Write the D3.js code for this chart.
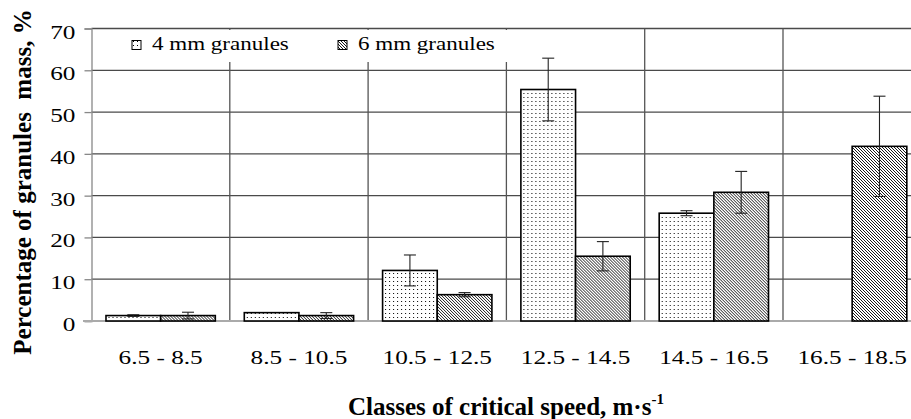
<!DOCTYPE html>
<html>
<head>
<meta charset="utf-8">
<script src="https://cdn.jsdelivr.net/npm/d3@7"></script>
<style>
body { margin: 0; background: #fff; }
svg { display: block; font-family: "Liberation Serif", "Times New Roman", serif; }
</style>
</head>
<body>
<svg id="chart"></svg>
<script>
var categories = ["6.5 - 8.5", "8.5 - 10.5", "10.5 - 12.5", "12.5 - 14.5", "14.5 - 16.5", "16.5 - 18.5"];
var series = ["4 mm granules", "6 mm granules"];
var mm4 = [1.3, 2.0, 12.1, 55.4, 25.8, null];
var mm4Err = [0.2, 0, 3.7, 7.5, 0.6, null];
var mm6 = [1.3, 1.3, 6.3, 15.5, 30.8, 41.8];
var mm6Err = [0.8, 0.7, 0.5, 3.5, 5.0, 12.0];
var yTicks = [0, 10, 20, 30, 40, 50, 60, 70];

var width = 911, height = 419;
var SX = 1.33; // labels are stretched sideways in the original

var svg = d3.select("#chart").attr("width", width).attr("height", height);

var defs = svg.append("defs");
var dots = defs.append("pattern").attr("id", "dots").attr("patternUnits", "userSpaceOnUse")
	.attr("width", 4).attr("height", 4);
dots.append("rect").attr("width", 4).attr("height", 4).attr("fill", "#fff");
dots.append("rect").attr("x", 1).attr("y", 1).attr("width", 1).attr("height", 1).attr("fill", "#000");

var hatch = defs.append("pattern").attr("id", "hatch").attr("patternUnits", "userSpaceOnUse")
	.attr("width", 3).attr("height", 3);
hatch.append("rect").attr("width", 3).attr("height", 3).attr("fill", "#fff");
hatch.append("path").attr("d", "M0,0L3,3M-1,2L1,4M2,-1L4,1").attr("stroke", "#000").attr("stroke-width", 0.9);

var fills = { "4 mm granules": "url(#dots)", "6 mm granules": "url(#hatch)" };

var x = d3.scaleBand().domain(categories).range([91.5, 921.3]).padding(0);
var xs = d3.scaleBand().domain(series).range([0, x.bandwidth()]).paddingInner(0).paddingOuter(0.265);
var y = d3.scaleLinear().domain([0, 70]).range([321, 28.5]);

var left = x.range()[0], right = x.range()[1];

// horizontal grid
svg.append("g").selectAll("line").data(yTicks.slice(1)).enter().append("line")
	.attr("x1", left).attr("x2", right)
	.attr("y1", (d) => y(d)).attr("y2", (d) => y(d))
	.attr("stroke", "#4a4a4a").attr("stroke-width", 1.3);

// vertical separators between classes
svg.append("g").selectAll("line").data(categories.slice(1)).enter().append("line")
	.attr("x1", (d) => x(d)).attr("x2", (d) => x(d))
	.attr("y1", y(70)).attr("y2", y(0))
	.attr("stroke", "#555").attr("stroke-width", 1.3);

// legend box hides the grid behind it
var legend = svg.append("g");
legend.append("rect").attr("x", 93).attr("y", 30).attr("width", 421).attr("height", 32).attr("fill", "#fff");
var legendX = [132, 338];
series.forEach((s, i) => {
	legend.append("rect").attr("x", legendX[i]).attr("y", 40.5).attr("width", 9).attr("height", 9)
		.attr("fill", fills[s]).attr("stroke", "#000").attr("stroke-width", 1);
	legend.append("text").text(s)
		.attr("transform", `translate(${legendX[i] + 20},50) scale(${SX - 0.05},1)`)
		.attr("font-size", 18).attr("fill", "#000");
});

// y axis
var yAxis = svg.append("g").attr("transform", `translate(${left},0)`)
	.call(d3.axisLeft(y).tickValues(yTicks).tickSize(7));
yAxis.select(".domain").attr("stroke", "#888").attr("stroke-width", 1.3);
yAxis.selectAll(".tick line").attr("stroke", "#888").attr("stroke-width", 1.3);
yAxis.selectAll(".tick text")
	.attr("x", null).attr("dy", null)
	.attr("transform", `translate(-16,9.5) scale(${SX},1)`)
	.attr("font-size", 19).attr("fill", "#000")
	.style("font-family", "Liberation Serif");

// x axis
var xAxis = svg.append("g").attr("transform", `translate(0,${y(0)})`)
	.call(d3.axisBottom(x).tickSize(0));
xAxis.select(".domain").remove();
xAxis.selectAll(".tick text")
	.attr("y", null).attr("dy", null)
	.attr("transform", `translate(0,43) scale(${SX},1)`)
	.attr("font-size", 19).attr("fill", "#000")
	.style("font-family", "Liberation Serif");
svg.append("line").attr("x1", 83).attr("x2", width).attr("y1", y(0)).attr("y2", y(0))
	.attr("stroke", "#aaa").attr("stroke-width", 2);

// bars
var rows = categories.map((c, i) => ({
	cat: c,
	items: [
		{ s: series[0], v: mm4[i], e: mm4Err[i] },
		{ s: series[1], v: mm6[i], e: mm6Err[i] },
	].filter((d) => d.v !== null),
}));

var groups = svg.append("g").selectAll("g").data(rows).enter().append("g")
	.attr("transform", (d) => `translate(${x(d.cat)},0)`);

groups.selectAll("rect").data((d) => d.items).enter().append("rect")
	.attr("x", (d) => xs(d.s)).attr("width", xs.bandwidth())
	.attr("y", (d) => y(d.v)).attr("height", (d) => y(0) - y(d.v))
	.attr("fill", (d) => fills[d.s]).attr("stroke", "#000").attr("stroke-width", 1.6);

var err = groups.selectAll("g.err").data((d) => d.items.filter((it) => it.e > 0)).enter()
	.append("g").attr("class", "err")
	.attr("stroke", "#222").attr("stroke-width", 1.1);
err.append("line")
	.attr("x1", (d) => xs(d.s) + xs.bandwidth() / 2).attr("x2", (d) => xs(d.s) + xs.bandwidth() / 2)
	.attr("y1", (d) => y(d.v - d.e)).attr("y2", (d) => y(d.v + d.e));
[1, -1].forEach((k) => {
	err.append("line")
		.attr("x1", (d) => xs(d.s) + xs.bandwidth() / 2 - 6).attr("x2", (d) => xs(d.s) + xs.bandwidth() / 2 + 6)
		.attr("y1", (d) => y(d.v + k * d.e)).attr("y2", (d) => y(d.v + k * d.e));
});

// axis titles
svg.append("text").text("Percentage of granules  mass, %")
	.attr("transform", "translate(31,182) rotate(-90)")
	.attr("text-anchor", "middle").attr("font-size", 25).attr("font-weight", "bold")
	.style("white-space", "pre");

var xt = svg.append("text").attr("x", 348).attr("y", 415)
	.attr("font-size", 25).attr("font-weight", "bold");
xt.append("tspan").text("Classes of critical speed, m\u00b7s");
xt.append("tspan").text("-1").attr("font-size", 15).attr("dy", -11);
</script>
</body>
</html>
